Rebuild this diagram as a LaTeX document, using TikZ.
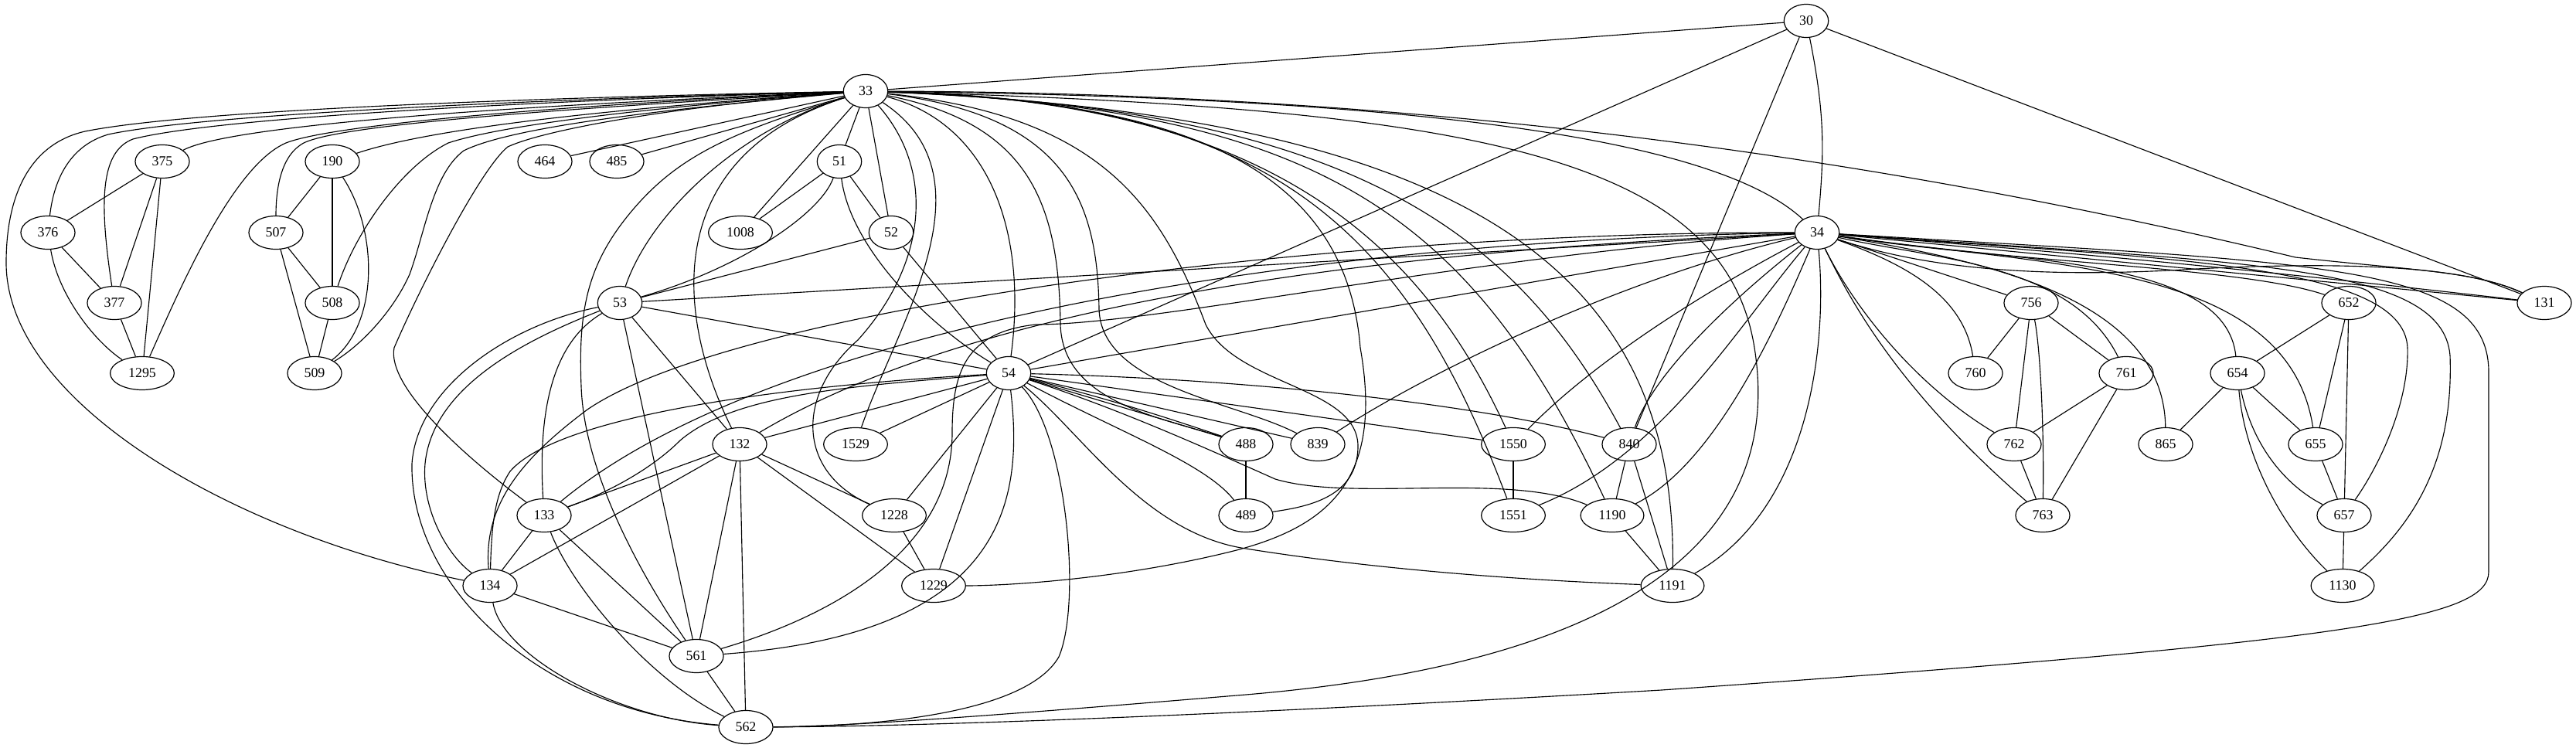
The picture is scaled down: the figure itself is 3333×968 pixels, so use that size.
\documentclass[tikz,border=0pt]{standalone}
\usepackage{fontspec}
\setmainfont{Liberation Serif}
\usetikzlibrary{shapes.geometric}
\begin{document}
\begin{tikzpicture}[x=0.837pt,y=-0.837pt,
  nd/.style={draw, ellipse, line width=1pt, minimum height=36pt, inner xsep=9.5pt, inner ysep=2pt, font=\fontsize{15}{17}\selectfont},
  ed/.style={line width=0.95pt}]
\useasboundingbox (0,0) rectangle (3333,968);
% nodes
\node[nd] (n30) at (2337,27) {30};
\node[nd] (n33) at (1120,118) {33};
\node[nd] (n34) at (2351,301) {34};
\node[nd] (n131) at (3292,392) {131};
\node[nd] (n375) at (210,209) {375};
\node[nd] (n376) at (62,301) {376};
\node[nd] (n377) at (148,392) {377};
\node[nd] (n1295) at (184,483) {1295};
\node[nd] (n190) at (430,209) {190};
\node[nd] (n507) at (357,301) {507};
\node[nd] (n508) at (430,392) {508};
\node[nd] (n509) at (407,483) {509};
\node[nd] (n464) at (705,209) {464};
\node[nd] (n485) at (798,209) {485};
\node[nd] (n51) at (1086,209) {51};
\node[nd] (n1008) at (958,301) {1008};
\node[nd] (n52) at (1153,301) {52};
\node[nd] (n53) at (802,392) {53};
\node[nd] (n54) at (1305,483) {54};
\node[nd] (n132) at (957,575) {132};
\node[nd] (n1529) at (1107,575) {1529};
\node[nd] (n488) at (1612,575) {488};
\node[nd] (n839) at (1705,575) {839};
\node[nd] (n1550) at (1958,575) {1550};
\node[nd] (n840) at (2108,575) {840};
\node[nd] (n133) at (704,667) {133};
\node[nd] (n1228) at (1157,667) {1228};
\node[nd] (n489) at (1612,667) {489};
\node[nd] (n1551) at (1958,667) {1551};
\node[nd] (n1190) at (2086,667) {1190};
\node[nd] (n134) at (634,758) {134};
\node[nd] (n1229) at (1208,758) {1229};
\node[nd] (n1191) at (2164,758) {1191};
\node[nd] (n561) at (901,849) {561};
\node[nd] (n562) at (965,941) {562};
\node[nd] (n756) at (2628,392) {756};
\node[nd] (n652) at (3039,392) {652};
\node[nd] (n760) at (2556,483) {760};
\node[nd] (n761) at (2751,483) {761};
\node[nd] (n654) at (2895,483) {654};
\node[nd] (n762) at (2606,575) {762};
\node[nd] (n865) at (2802,575) {865};
\node[nd] (n655) at (2996,575) {655};
\node[nd] (n763) at (2643,667) {763};
\node[nd] (n657) at (3033,667) {657};
\node[nd] (n1130) at (3031,758) {1130};

% edges from 30
\draw[ed] (n30) -- (n33);
\draw[ed] (n30) -- (n54);
\draw[ed] (n30) -- (n840);
\draw[ed] (n30) -- (n131);
\draw[ed] (n30) .. controls (2362,150) and (2360,200) .. (n34);

% edges from 33 (left side)
\draw[ed] (n33) .. controls (700,126) and (250,142) .. (110,170) .. controls (40,186) and (8,250) .. (8,340) .. controls (8,520) and (300,690) .. (n134);
\draw[ed] (n33) .. controls (700,128) and (260,148) .. (140,174) .. controls (92,188) and (70,230) .. (n376);
\draw[ed] (n33) .. controls (700,130) and (280,152) .. (172,180) .. controls (130,196) and (128,260) .. (n377);
\draw[ed] (n33) .. controls (700,135) and (300,160) .. (n375);
\draw[ed] (n33) .. controls (650,140) and (420,165) .. (370,185) .. controls (300,215) and (230,380) .. (n1295);
\draw[ed] (n33) .. controls (700,142) and (440,162) .. (393,185) .. controls (365,200) and (357,240) .. (n507);
\draw[ed] (n33) .. controls (800,140) and (560,165) .. (n190);
\draw[ed] (n33) .. controls (800,142) and (640,165) .. (580,185) .. controls (520,215) and (460,300) .. (n508);
\draw[ed] (n33) .. controls (850,142) and (660,165) .. (600,195) .. controls (560,225) and (550,300) .. (530,355) .. controls (510,400) and (470,445) .. (n509);
\draw[ed] (n33) .. controls (850,140) and (700,170) .. (657,190) .. controls (620,220) and (540,380) .. (510,450) .. controls (500,500) and (600,590) .. (n133);
\draw[ed] (n33) -- (n464);
\draw[ed] (n33) -- (n485);
\draw[ed] (n33) .. controls (950,170) and (840,280) .. (n53);
\draw[ed] (n33) .. controls (950,170) and (880,200) .. (820,270) .. controls (760,340) and (748,400) .. (752,500) .. controls (756,620) and (840,760) .. (n561);
\draw[ed] (n33) -- (n1008);
\draw[ed] (n33) -- (n51);
\draw[ed] (n33) -- (n52);
\draw[ed] (n33) .. controls (860,200) and (870,400) .. (n132);
% edges from 33 (right side)
\draw[ed] (n33) .. controls (1210,220) and (1200,340) .. (1110,440) .. controls (1030,510) and (1030,610) .. (n1228);
\draw[ed] (n33) .. controls (1290,230) and (1160,420) .. (n1529);
\draw[ed] (n33) .. controls (1280,160) and (1330,300) .. (n54);
\draw[ed] (n33) .. controls (1330,160) and (1370,260) .. (1372,420) .. controls (1375,520) and (1500,540) .. (n488);
\draw[ed] (n33) .. controls (1380,150) and (1420,260) .. (1422,400) .. controls (1425,500) and (1600,520) .. (n839);
\draw[ed] (n33) .. controls (1420,150) and (1500,260) .. (1560,420) .. controls (1600,500) and (1760,500) .. (1757,580) .. controls (1755,640) and (1700,655) .. (n489);
\draw[ed] (n33) .. controls (1500,130) and (1740,200) .. (1760,450) .. controls (1790,620) and (1720,680) .. (1600,712) .. controls (1450,750) and (1300,758) .. (n1229);
\draw[ed] (n33) .. controls (1650,130) and (1820,300) .. (n1551);
\draw[ed] (n33) .. controls (1650,130) and (1840,320) .. (n1550);
\draw[ed] (n33) .. controls (1700,140) and (1900,270) .. (n1190);
\draw[ed] (n33) .. controls (1750,140) and (1960,300) .. (n840);
\draw[ed] (n33) .. controls (1900,150) and (2170,350) .. (n1191);
\draw[ed] (n33) .. controls (1900,140) and (2230,200) .. (2270,450) .. controls (2310,700) and (2100,860) .. (1600,900) .. controls (1300,925) and (1100,940) .. (n562);
\draw[ed] (n33) .. controls (1700,125) and (2200,160) .. (n34);
\draw[ed] (n33) .. controls (1900,120) and (2500,220) .. (2970,333) .. controls (3120,350) and (3200,350) .. (n131);

% edges from 34
\draw[ed] (n34) -- (n53);
\draw[ed] (n34) -- (n54);
\draw[ed] (n34) .. controls (1900,320) and (1300,370) .. (n132);
\draw[ed] (n34) .. controls (1700,310) and (1000,420) .. (n133);
\draw[ed] (n34) .. controls (1700,300) and (950,400) .. (760,530) .. controls (680,590) and (625,650) .. (n134);
\draw[ed] (n34) .. controls (1900,330) and (1500,420) .. (1340,420) .. controls (1250,430) and (1232,480) .. (1232,560) .. controls (1232,700) and (1100,790) .. (n561);
\draw[ed] (n34) .. controls (2100,360) and (1850,480) .. (n839);
\draw[ed] (n34) .. controls (2200,380) and (2060,470) .. (n1550);
\draw[ed] (n34) .. controls (2250,380) and (2140,480) .. (n840);
\draw[ed] (n34) .. controls (2250,420) and (2150,590) .. (n1551);
\draw[ed] (n34) .. controls (2300,420) and (2220,600) .. (n1190);
\draw[ed] (n34) .. controls (2365,450) and (2340,660) .. (n1191);
\draw[ed] (n34) -- (n131);
\draw[ed] (n34) to[bend left=1] (n131);
\draw[ed] (n34) .. controls (2500,350) and (2650,360) .. (2842,348) .. controls (3000,340) and (3180,340) .. (n131);
\draw[ed] (n34) -- (n756);
\draw[ed] (n34) .. controls (2460,340) and (2540,380) .. (n760);
\draw[ed] (n34) .. controls (2500,335) and (2680,340) .. (n761);
\draw[ed] (n34) .. controls (2550,335) and (2800,380) .. (n865);
\draw[ed] (n34) .. controls (2400,400) and (2480,500) .. (n762);
\draw[ed] (n34) .. controls (2390,380) and (2450,500) .. (n763);
\draw[ed] (n34) .. controls (2600,340) and (2880,330) .. (n654);
\draw[ed] (n34) .. controls (2650,345) and (2960,340) .. (n655);
\draw[ed] (n34) .. controls (2600,340) and (2900,345) .. (n652);
\draw[ed] (n34) .. controls (2800,335) and (3110,340) .. (3115,450) .. controls (3117,520) and (3080,600) .. (n657);
\draw[ed] (n34) .. controls (2900,340) and (3160,340) .. (3170,460) .. controls (3175,600) and (3120,680) .. (n1130);
\draw[ed] (n34) .. controls (3000,340) and (3218,340) .. (3220,480) -- (3220,740) .. controls (3220,800) and (3050,830) .. (2150,893) .. controls (1600,925) and (1200,940) .. (n562);

% edges from 54
\draw[ed] (n54) -- (n53);
\draw[ed] (n51) .. controls (1100,320) and (1200,420) .. (n54);
\draw[ed] (n52) -- (n54);
\draw[ed] (n54) -- (n132);
\draw[ed] (n54) .. controls (1100,500) and (950,510) .. (880,570) .. controls (840,610) and (780,640) .. (n133);
\draw[ed] (n54) .. controls (1000,500) and (720,540) .. (660,610) .. controls (640,640) and (636,680) .. (n134);
\draw[ed] (n54) -- (n1529);
\draw[ed] (n54) -- (n1228);
\draw[ed] (n54) -- (n1229);
\draw[ed] (n54) .. controls (1325,650) and (1300,820) .. (n561);
\draw[ed] (n54) .. controls (1380,560) and (1400,780) .. (1370,850) .. controls (1330,920) and (1150,940) .. (n562);
\draw[ed] (n54) -- (n488);
\draw[ed] (n54) to[bend left=2] (n488);
\draw[ed] (n54) -- (n839);
\draw[ed] (n54) .. controls (1450,560) and (1560,600) .. (n489);
\draw[ed] (n54) -- (n1550);
\draw[ed] (n54) .. controls (1600,490) and (1900,520) .. (n840);
\draw[ed] (n54) .. controls (1450,530) and (1560,580) .. (1650,620) .. controls (1750,650) and (1950,610) .. (n1190);
\draw[ed] (n54) .. controls (1400,560) and (1480,690) .. (1612,710) .. controls (1800,740) and (2000,752) .. (n1191);

% edges from 53
\draw[ed] (n53) .. controls (950,350) and (1060,280) .. (n51);
\draw[ed] (n53) -- (n52);
\draw[ed] (n53) .. controls (720,440) and (695,520) .. (n133);
\draw[ed] (n53) .. controls (680,440) and (560,500) .. (550,600) .. controls (545,660) and (580,720) .. (n134);
\draw[ed] (n53) .. controls (660,420) and (540,500) .. (533,600) .. controls (530,760) and (700,920) .. (n562);
\draw[ed] (n53) -- (n561);
\draw[ed] (n53) -- (n132);

% small hubs
\draw[ed] (n51) -- (n1008);
\draw[ed] (n51) -- (n52);
\draw[ed] (n132) -- (n133);
\draw[ed] (n132) -- (n134);
\draw[ed] (n132) -- (n561);
\draw[ed] (n132) -- (n562);
\draw[ed] (n132) -- (n1228);
\draw[ed] (n132) -- (n1229);
\draw[ed] (n133) -- (n134);
\draw[ed] (n133) -- (n561);
\draw[ed] (n133) .. controls (740,760) and (840,880) .. (n562);
\draw[ed] (n134) -- (n561);
\draw[ed] (n134) .. controls (650,850) and (800,930) .. (n562);
\draw[ed] (n561) -- (n562);
\draw[ed] (n1228) -- (n1229);
\draw[ed] (n488) -- (n489);
\draw[ed] (n1550) -- (n1551);
\draw[ed] (n840) -- (n1190);
\draw[ed] (n840) -- (n1191);
\draw[ed] (n1190) -- (n1191);

% left clusters
\draw[ed] (n375) -- (n376);
\draw[ed] (n375) -- (n377);
\draw[ed] (n375) -- (n1295);
\draw[ed] (n376) -- (n377);
\draw[ed] (n376) .. controls (75,380) and (120,440) .. (n1295);
\draw[ed] (n377) -- (n1295);
\draw[ed] (n190) -- (n507);
\draw[ed] (n190) -- (n508);
\draw[ed] (n190) .. controls (490,300) and (490,420) .. (n509);
\draw[ed] (n507) -- (n508);
\draw[ed] (n507) -- (n509);
\draw[ed] (n508) -- (n509);

% right clusters
\draw[ed] (n756) -- (n760);
\draw[ed] (n756) -- (n761);
\draw[ed] (n756) -- (n762);
\draw[ed] (n756) .. controls (2640,450) and (2645,560) .. (n763);
\draw[ed] (n761) -- (n762);
\draw[ed] (n761) -- (n763);
\draw[ed] (n762) -- (n763);
\draw[ed] (n652) -- (n654);
\draw[ed] (n652) -- (n655);
\draw[ed] (n652) -- (n657);
\draw[ed] (n654) -- (n865);
\draw[ed] (n654) -- (n655);
\draw[ed] (n654) .. controls (2915,580) and (2960,630) .. (n657);
\draw[ed] (n654) .. controls (2905,600) and (2960,690) .. (n1130);
\draw[ed] (n655) -- (n657);
\draw[ed] (n657) -- (n1130);
\end{tikzpicture}
\end{document}
